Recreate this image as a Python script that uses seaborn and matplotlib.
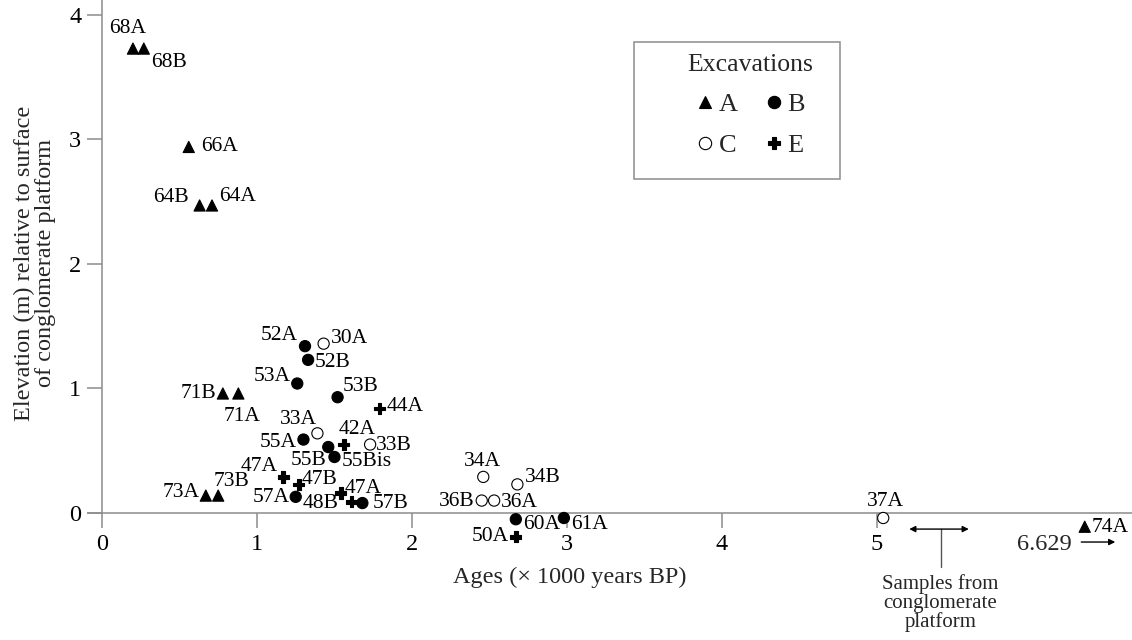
import matplotlib
matplotlib.use('Agg')
import matplotlib.pyplot as plt
from matplotlib.patches import Rectangle
import pandas as pd
import seaborn as sns

# --- data (ages in 1000 years BP, elevation in m)
names = ['68A', '68B', '66A', '64B', '64A', '71B', '71A', '73A', '73B', '74A',
         '52A', '52B', '53A', '53B', '55A', '55B', '55Bis', '57A', '57B', '60A', '61A',
         '30A', '33A', '33B', '34A', '34B', '36B', '36A', '37A',
         '44A', '42A', '47A', '47B', '47A', '48B', '50A']
ages = [0.20, 0.27, 0.56, 0.63, 0.71, 0.78, 0.88, 0.67, 0.75, 6.34,
        1.31, 1.33, 1.26, 1.52, 1.30, 1.46, 1.50, 1.25, 1.68, 2.67, 2.98,
        1.43, 1.39, 1.73, 2.46, 2.68, 2.45, 2.53, 5.04,
        1.79, 1.56, 1.17, 1.27, 1.54, 1.61, 2.67]
elevations = [3.73, 3.73, 2.94, 2.47, 2.47, 0.96, 0.96, 0.14, 0.14, -0.11,
              1.34, 1.23, 1.04, 0.93, 0.59, 0.53, 0.45, 0.13, 0.08, -0.05, -0.04,
              1.36, 0.64, 0.55, 0.29, 0.23, 0.10, 0.10, -0.04,
              0.84, 0.55, 0.29, 0.23, 0.16, 0.09, -0.19]
excavation = ['A'] * 10 + ['B'] * 11 + ['C'] * 8 + ['E'] * 7

excavation_order = ['A', 'C', 'B', 'E']   # 2-column legend -> rows "A B" / "C E"
x_ticks = [0, 1, 2, 3, 4, 5]
y_ticks = [0, 1, 2, 3, 4]

# label offsets in pixels (dx, dy), same order as names
label_offsets = [(-5, 20), (25, -14), (31, 0), (-29, 8), (26, 9), (-24, 0), (4, -23), (-25, 3), (13, 14), (25, -1),
                 (-26, 11), (24, -3), (-25, 7), (23, 11), (-25, -3), (-20, -13), (32, -5), (-25, -1), (28, 0), (26, -5), (26, -7),
                 (26, 5), (-19, 14), (24, -1), (-1, 15), (25, 7), (-25, -1), (25, -2), (2, 16),
                 (26, 2), (13, 15), (-24, 10), (21, 5), (22, 5), (-31, -2), (-26, 0)]

df = pd.DataFrame({'name': names, 'age': ages, 'elevation': elevations, 'excavation': excavation})

sns.set_theme(style='white')
plt.rcParams['font.family'] = ['Liberation Serif', 'DejaVu Serif']

axis_grey = '#8c8c8c'

fig = plt.figure(figsize=(11.32, 6.4), dpi=100)
ax = fig.add_axes([88 / 1132, 90 / 640, 1044 / 1132, 550 / 640])

palette = {'A': 'black', 'B': 'black', 'C': 'white', 'E': 'black'}
markers = {'A': '^', 'B': 'o', 'C': 'o', 'E': 'P'}
sns.scatterplot(data=df, x='age', y='elevation', hue='excavation', style='excavation',
                hue_order=excavation_order, style_order=excavation_order,
                palette=palette, markers=markers, s=65, edgecolor='black', linewidth=0.8,
                ax=ax, clip_on=False, zorder=3)

for nm, xx, yy, off in zip(names, ages, elevations, label_offsets):
    ax.annotate(nm, (xx, yy), xytext=off, textcoords='offset pixels',
                ha='center', va='center', fontsize=15.5, color='black')

# axes
ax.set_xlim(-0.09, 6.645)
ax.set_ylim(-0.297, 4.12)
ax.spines['top'].set_visible(False)
ax.spines['right'].set_visible(False)
ax.spines['left'].set_position(('data', 0))
ax.spines['bottom'].set_position(('data', 0))
ax.spines['left'].set_bounds(0, 4.12)
for s in ['left', 'bottom']:
    ax.spines[s].set_color(axis_grey)
    ax.spines[s].set_linewidth(1.1)
ax.set_xticks(x_ticks)
ax.set_yticks(y_ticks)
ax.tick_params(bottom=True, left=True, direction='out', length=10.8, width=1.1,
               color=axis_grey, labelcolor='black', labelsize=17.5, pad=4)

ax.set_xlabel('Ages (× 1000 years BP)', fontsize=17.5)
ax.xaxis.set_label_coords(0.4617, -0.049)
ax.xaxis.label.set_verticalalignment('center')
ax.set_ylabel('Elevation (m) relative to surface\nof conglomerate platform', fontsize=17.5, linespacing=1.05)
ax.yaxis.set_label_coords(-0.0508, 0.522)
ax.yaxis.label.set_verticalalignment('center')
ax.yaxis.label.set_horizontalalignment('center')

# legend
sns.move_legend(ax, 'center', bbox_to_anchor=(0.634, 0.808), ncol=2, frameon=False,
                title='Excavations', fontsize=19, title_fontsize=18.5,
                handletextpad=0.1, columnspacing=1.0, labelspacing=0.65, handlelength=0.8,
                markerscale=1.1)
ax.get_legend()._legend_box.sep = 12
ax.add_patch(Rectangle((0.523, 0.6745), 0.1973, 0.249, transform=ax.transAxes,
                       fill=False, edgecolor=axis_grey, linewidth=1.1, clip_on=False))

# platform samples note
ax.annotate('', xy=(5.61, -0.129), xytext=(5.19, -0.129),
            arrowprops=dict(arrowstyle='<|-|>', color='black', lw=1, mutation_scale=9))
ax.plot([5.41, 5.41], [-0.129, -0.434], color='#555555', lw=1, clip_on=False)
ax.text(5.41, -0.723, 'Samples from\nconglomerate\nplatform', ha='center', va='center',
        fontsize=15, linespacing=1.0)

# off-scale sample 74A
ax.text(6.08, -0.249, '6.629', ha='center', va='center', fontsize=17.5)
ax.annotate('', xy=(6.555, -0.233), xytext=(6.30, -0.233),
            arrowprops=dict(arrowstyle='-|>', color='black', lw=1, mutation_scale=9))

fig.savefig('out.png', dpi=100)
